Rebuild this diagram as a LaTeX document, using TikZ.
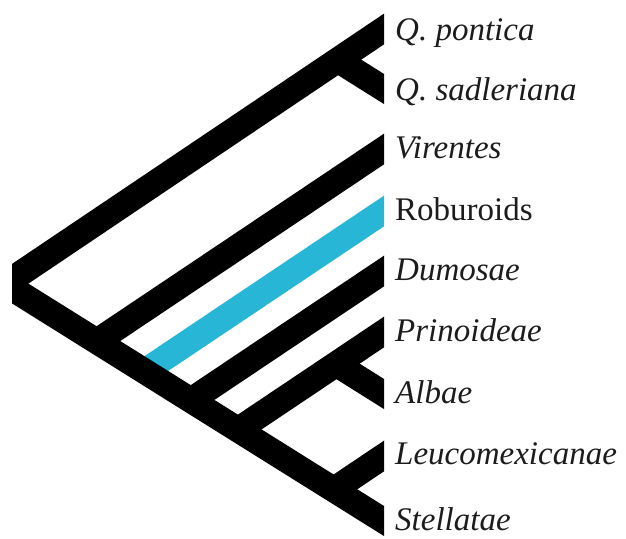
\documentclass[tikz,border=0pt]{standalone}
\usepackage{fontspec}
\setmainfont{Liberation Serif}
\definecolor{roburoid}{RGB}{40,182,214}
\definecolor{inktext}{RGB}{28,28,28}
\begin{document}
\begin{tikzpicture}[x=1pt,y=-1pt,
  branch/.style={line width=25.5pt, line cap=butt, shorten >=-30pt},
  taxon/.style={anchor=base west, inner sep=0pt, text=inktext,
    font=\fontsize{33}{40}\selectfont\itshape},
  group/.style={taxon, font=\fontsize{33}{40}\selectfont\upshape}
]
\useasboundingbox (0,0) rectangle (626,538);

% tips (all branches end at x = 384)
\coordinate (tPon) at (384,29);
\coordinate (tSad) at (384,89);
\coordinate (tVir) at (384,149);
\coordinate (tRob) at (384,211);
\coordinate (tDum) at (384,271);
\coordinate (tPri) at (384,332);
\coordinate (tAlb) at (384,394);
\coordinate (tLeu) at (384,456);
\coordinate (tSte) at (384,521);

% root and internal nodes
\coordinate (root) at (5,284);
\coordinate (nSad) at (337.8,60.0);
\coordinate (nVir) at (97.4,341.0);
\coordinate (nRob) at (145.2,371.0);
\coordinate (nDum) at (191.4,400.0);
\coordinate (nPri) at (238.4,429.6);
\coordinate (nAlb) at (336.2,364.0);
\coordinate (nLeu) at (333.9,489.6);

\begin{scope}
  \clip (12,0) rectangle (384,538);
  % highlighted lineage drawn underneath
  \draw[branch, roburoid] (nRob) -- (tRob);
  % backbone from the root
  \draw[branch, shorten <=-30pt] (root) -- (tPon);
  \draw[branch, shorten <=-30pt] (root) -- (tSte);
  % side branches
  \draw[branch] (nSad) -- (tSad);
  \draw[branch] (nVir) -- (tVir);
  \draw[branch] (nDum) -- (tDum);
  \draw[branch] (nPri) -- (tPri);
  \draw[branch] (nAlb) -- (tAlb);
  \draw[branch] (nLeu) -- (tLeu);
\end{scope}

% taxon labels
\node[taxon] (lPon) at (395,40) {Q. pontica};
\node[taxon] (lSad) at (395,100) {Q. sadleriana};
\node[taxon] (lVir) at (395,158) {Virentes};
\node[group] (lRob) at (395,220) {Roburoids};
\node[taxon] (lDum) at (395,280) {Dumosae};
\node[taxon] (lPri) at (395,341) {Prinoideae};
\node[taxon] (lAlb) at (395,403) {Albae};
\node[taxon] (lLeu) at (395,464) {Leucomexicanae};
\node[taxon] (lSte) at (395,530) {Stellatae};
\end{tikzpicture}
\end{document}
